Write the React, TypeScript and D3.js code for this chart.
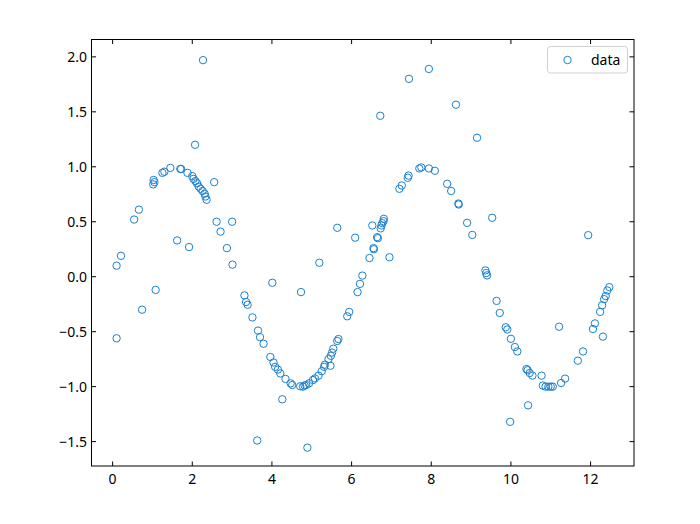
import React from "react";
import * as d3 from "d3";

const xs = [
  0.10, 0.21, 0.10, 0.54, 0.66, 0.74, 1.08, 1.02, 1.05, 1.03,
  1.25, 1.30, 1.45, 1.62, 1.70, 1.72, 1.88, 1.92, 2.00, 2.03,
  2.07, 2.08, 2.12, 2.16, 2.21, 2.26, 2.27, 2.31, 2.33, 2.36,
  2.55, 2.61, 2.71, 2.87, 3.00, 3.01, 3.31, 3.35, 3.39, 3.51,
  3.63, 3.65, 3.70, 3.79, 3.96, 4.01, 4.04, 4.08, 4.15, 4.21,
  4.26, 4.34, 4.47, 4.51, 4.71, 4.73, 4.78, 4.82, 4.86, 4.89,
  4.93, 5.03, 5.08, 5.17, 5.19, 5.25, 5.31, 5.33, 5.42, 5.47,
  5.48, 5.51, 5.54, 5.64, 5.64, 5.67, 5.89, 5.94, 6.09, 6.15,
  6.21, 6.27, 6.45, 6.52, 6.55, 6.56, 6.64, 6.66, 6.72, 6.73,
  6.75, 6.77, 6.80, 6.81, 6.95, 7.20, 7.26, 7.41, 7.43, 7.44,
  7.70, 7.75, 7.94, 7.94, 8.09, 8.40, 8.50, 8.62, 8.68, 8.69,
  8.90, 9.03, 9.15, 9.36, 9.38, 9.40, 9.53, 9.64, 9.72, 9.87,
  9.91, 9.98, 10.00, 10.10, 10.16, 10.39, 10.42, 10.43, 10.47, 10.54,
  10.77, 10.80, 10.87, 10.94, 11.00, 11.05, 11.21, 11.26, 11.36, 11.68,
  11.81, 11.94, 12.06, 12.11, 12.24, 12.29, 12.31, 12.34, 12.38, 12.42,
  12.47,
];

const ys = [
  0.10, 0.19, -0.56, 0.52, 0.61, -0.30, -0.12, 0.84, 0.86, 0.88,
  0.945, 0.955, 0.99, 0.33, 0.98, 0.98, 0.945, 0.27, 0.915, 0.89,
  1.20, 0.87, 0.85, 0.82, 0.80, 0.78, 1.97, 0.755, 0.73, 0.70,
  0.86, 0.50, 0.41, 0.26, 0.50, 0.11, -0.17, -0.23, -0.255, -0.37,
  -1.49, -0.49, -0.55, -0.61, -0.73, -0.055, -0.78, -0.82, -0.845, -0.88,
  -1.115, -0.93, -0.97, -0.985, -0.997, -0.14, -1.0, -0.99, -0.985, -1.555,
  -0.97, -0.94, -0.925, -0.90, 0.127, -0.86, -0.82, -0.80, -0.75, -0.81,
  -0.72, -0.69, -0.655, -0.585, 0.445, -0.567, -0.36, -0.32, 0.355, -0.14,
  -0.065, 0.01, 0.17, 0.466, 0.26, 0.25, 0.36, 0.35, 1.464, 0.44,
  0.466, 0.487, 0.505, 0.527, 0.177, 0.80, 0.83, 0.90, 0.92, 1.80,
  0.985, 0.994, 0.985, 1.89, 0.964, 0.845, 0.78, 1.565, 0.666, 0.657,
  0.49, 0.38, 1.264, 0.057, 0.033, 0.012, 0.536, -0.22, -0.33, -0.46,
  -0.48, -1.32, -0.565, -0.64, -0.68, -0.84, -0.85, -1.17, -0.876, -0.90,
  -0.90, -0.99, -1.0, -1.0, -1.0, -1.0, -0.455, -0.967, -0.927, -0.764,
  -0.68, 0.378, -0.476, -0.425, -0.32, -0.26, -0.545, -0.204, -0.176, -0.125,
  -0.095,
];

const xTicks = [0, 2, 4, 6, 8, 10, 12];
const yTicks = [-1.5, -1.0, -0.5, 0.0, 0.5, 1.0, 1.5, 2.0];
const seriesName = "data";

const W = 700;
const H = 524;
const L = 91.5;
const R = 634;
const T = 39.5;
const B = 466;
const COLOR = "#1a80d0";
const FONT = "'Noto Sans', 'DejaVu Sans', sans-serif";

export default function App() {
  const x = d3.scaleLinear().domain([-0.53, 13.09]).range([L, R]);
  const y = d3.scaleLinear().domain([-1.722, 2.158]).range([B, T]);
  const pts = xs.map((v, i) => ({ x: v, y: ys[i] }));
  const tl = 4.5;
  return (
    <svg
      width={W}
      height={H}
      style={{ position: "absolute", left: 0, top: 0, background: "#fff" }}
    >
      <rect x={0} y={0} width={W} height={H} fill="#fff" />
      <g>
        {pts.map((p, i) => (
          <circle
            key={i}
            cx={x(p.x)}
            cy={y(p.y)}
            r={3.7}
            fill="none"
            stroke={COLOR}
            strokeWidth={1}
          />
        ))}
      </g>
      <rect
        x={L}
        y={T}
        width={R - L}
        height={B - T}
        fill="none"
        stroke="#000"
        strokeWidth={1}
      />
      {xTicks.map((t) => (
        <g key={"x" + t}>
          <line x1={x(t)} x2={x(t)} y1={B} y2={B - tl} stroke="#000" />
          <line x1={x(t)} x2={x(t)} y1={T} y2={T + tl} stroke="#000" />
          <text
            x={x(t)}
            y={484}
            textAnchor="middle"
            fontFamily={FONT}
            fontSize={14}
            fill="#000"
          >
            {d3.format("d")(t)}
          </text>
        </g>
      ))}
      {yTicks.map((t) => (
        <g key={"y" + t}>
          <line x1={L} x2={L + tl} y1={y(t)} y2={y(t)} stroke="#000" />
          <line x1={R} x2={R - tl} y1={y(t)} y2={y(t)} stroke="#000" />
          <text
            x={87}
            y={y(t) + 5}
            textAnchor="end"
            fontFamily={FONT}
            fontSize={14}
            fill="#000"
          >
            {d3.format(".1f")(t).replace("-", "\u2212")}
          </text>
        </g>
      ))}
      <g>
        <rect
          x={547.5}
          y={46.5}
          width={80}
          height={26.5}
          rx={3}
          fill="#fff"
          fillOpacity={0.8}
          stroke="#d0d0d0"
          strokeWidth={1}
        />
        <circle cx={567.5} cy={60} r={3.7} fill="none" stroke={COLOR} strokeWidth={1} />
        <text x={591} y={65} fontFamily={FONT} fontSize={14} fill="#000">
          {seriesName}
        </text>
      </g>
    </svg>
  );
}
